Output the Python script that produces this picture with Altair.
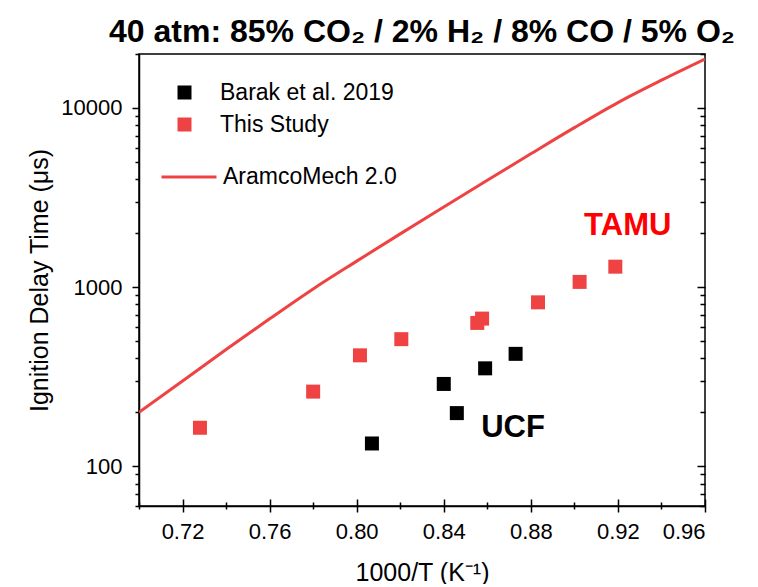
import altair as alt
import pandas as pd

# ---- data ----
barak_x = [0.807, 0.840, 0.846, 0.859, 0.873]
barak_y = [134, 288, 198, 352, 424]

study_x = [0.728, 0.780, 0.8015, 0.8205, 0.8554, 0.8576, 0.8833, 0.9024, 0.9188]
study_y = [164, 261, 416, 512, 631, 667, 822, 1069, 1300]

model_x = [0.70, 0.72, 0.74, 0.76, 0.78, 0.80, 0.82, 0.84, 0.86, 0.88, 0.90, 0.92, 0.94, 0.96]
model_y = [200, 299, 448, 665, 977, 1396, 1982, 2799, 3945, 5546, 7762, 10715, 14289, 18750]

series_names = ["Barak et al. 2019", "This Study"]
model_name = "AramcoMech 2.0"

x_ticks = [0.70, 0.72, 0.74, 0.76, 0.78, 0.80, 0.82, 0.84, 0.86, 0.88, 0.90, 0.92, 0.94, 0.96]
x_major = [0.72, 0.76, 0.80, 0.84, 0.88, 0.92, 0.96]
y_ticks = [60, 70, 80, 90, 100, 200, 300, 400, 500, 600, 700, 800, 900,
           1000, 2000, 3000, 4000, 5000, 6000, 7000, 8000, 9000, 10000, 20000]
y_major = [100, 1000, 10000]

notes_text = ["TAMU", "UCF"]
notes_x = [0.9245, 0.8718]
notes_y = [2183, 163]
notes_color = ["#FF0000", "#000000"]

RED = "#EF4343"
FONT = "Liberation Sans"
W, H = 566, 452

pts = pd.DataFrame({
    "x": barak_x + study_x,
    "y": barak_y + study_y,
    "series": [series_names[0]] * len(barak_x) + [series_names[1]] * len(study_x),
})
model = pd.DataFrame({"x": model_x, "y": model_y, "model": [model_name] * len(model_x)})
notes = pd.DataFrame({"x": notes_x, "y": notes_y, "t": notes_text, "c": notes_color})

xscale = alt.Scale(domain=[0.70, 0.96], nice=False, zero=False)
yscale = alt.Scale(type="log", domain=[60, 20000], nice=False)

xmaj_test = "indexof(%s, datum.value) >= 0" % str(x_major)
ymaj_test = "indexof(%s, datum.value) >= 0" % str(y_major)

# Grid lines run from the axis across the plot; the dash pattern keeps only the
# last few pixels, giving the mirrored inward ticks on the top and right frame.
x_axis = alt.Axis(
    orient="bottom", values=x_ticks, format=".2f",
    labelExpr="%s ? format(datum.value, '.2f') : ''" % xmaj_test,
    tickSize=6, tickDash=alt.condition(xmaj_test, alt.value([30, 0]), alt.value([3, 30])),
    grid=True, gridColor="#000000", gridWidth=1.5, gridOpacity=1,
    gridDash=alt.condition(xmaj_test, alt.value([0, H - 7, 7, 2000]), alt.value([0, H - 4, 4, 2000])),
    labelPadding=9, title="1000/T (K\u207b\u00b9)", titlePadding=18)
y_axis = alt.Axis(
    orient="left", values=y_ticks,
    labelExpr="%s ? format(datum.value, 'd') : ''" % ymaj_test,
    tickSize=7, tickDash=alt.condition(ymaj_test, alt.value([30, 0]), alt.value([4, 30])),
    grid=True, gridColor="#000000", gridWidth=1.5, gridOpacity=1,
    gridDash=alt.condition(ymaj_test, alt.value([0, W - 8, 8, 2000]), alt.value([0, W - 5, 5, 2000])),
    labelPadding=10, title="Ignition Delay Time (\u03bcs)", titlePadding=8)

X = alt.X("x:Q", scale=xscale, axis=x_axis)
Y = alt.Y("y:Q", scale=yscale, axis=y_axis)

line = alt.Chart(model).mark_line(color=RED, strokeWidth=3, clip=True, interpolate="monotone").encode(
    x=X, y=Y,
    color=alt.Color("model:N", scale=alt.Scale(domain=[model_name], range=[RED]),
                    legend=alt.Legend(title=None, orient="none", legendX=21, legendY=94,
                                      symbolType="stroke", symbolSize=3025,
                                      symbolStrokeWidth=3, labelOffset=5, labelLimit=400)),
)

points = alt.Chart(pts).mark_square(size=196, opacity=1).encode(
    x=X, y=Y,
    color=alt.Color("series:N", scale=alt.Scale(domain=series_names, range=["#000000", RED]),
                    legend=alt.Legend(title=None, orient="none", legendX=34, legendY=27,
                                      symbolType="square", symbolSize=196, labelOffset=24,
                                      rowPadding=8, labelLimit=400)),
)

text = alt.Chart(notes).mark_text(font=FONT, fontSize=31, fontWeight="bold", baseline="middle", align="center").encode(
    x=X, y=Y,
    text="t:N",
    color=alt.Color("c:N", scale=None),
)

chart = alt.layer(
    line, points, text,
).resolve_scale(
    color="independent"
).properties(
    width=W, height=H,
    title=alt.TitleParams("40 atm: 85% CO\u2082 / 2% H\u2082 / 8% CO / 5% O\u2082",
                          font=FONT, fontSize=32, fontWeight="bold", anchor="middle",
                          offset=4, color="#000000"),
    autosize=alt.AutoSizeParams(type="none"),
    padding={"left": 131, "top": 46, "right": 40, "bottom": 78},
).configure_view(
    stroke="#000000", strokeWidth=1.5
).configure_axis(
    domainColor="#000000", domainWidth=1.5, tickColor="#000000", tickWidth=1.5,
    labelFont=FONT, labelFontSize=22, labelColor="#000000",
    titleFont=FONT, titleFontSize=25, titleFontWeight="normal", titleColor="#000000",
).configure_legend(
    labelFont=FONT, labelFontSize=23, labelColor="#000000", padding=0,
)

chart.save("out.html", embed_options={"renderer": "svg", "actions": False})
